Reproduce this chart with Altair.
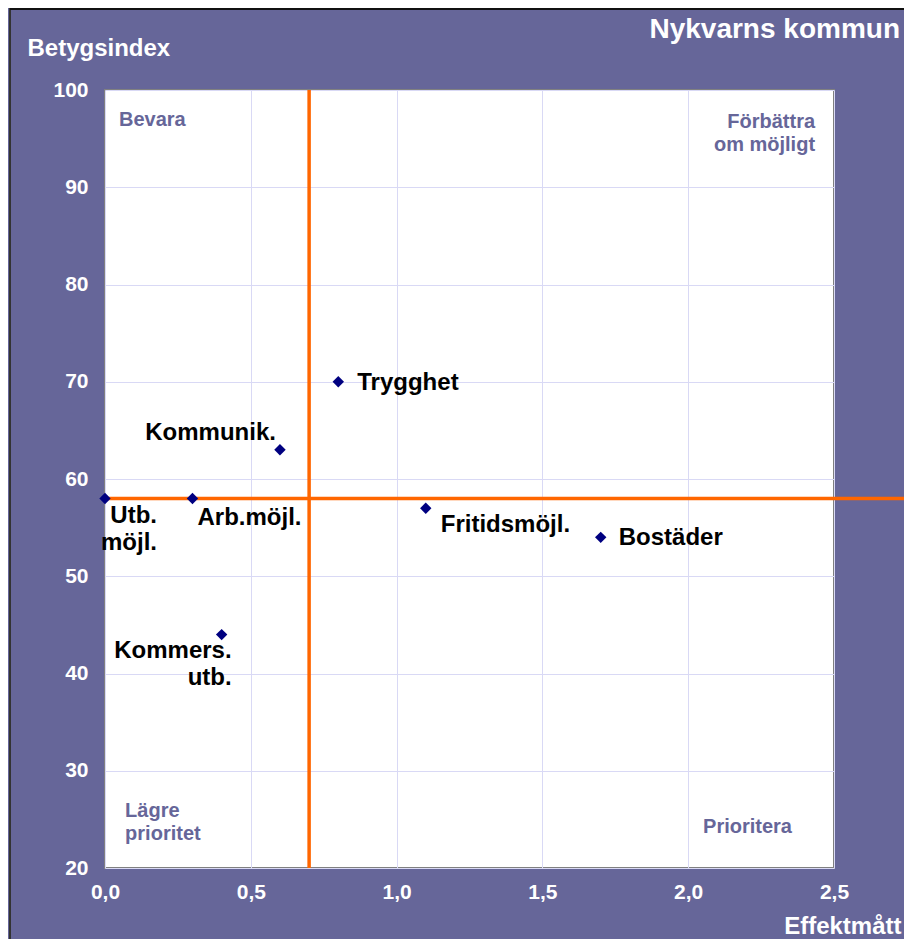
import altair as alt
import pandas as pd

# ---- data ----
labels = ["Utb.\nmöjl.", "Arb.möjl.", "Kommers.\nutb.", "Kommunik.", "Trygghet", "Fritidsmöjl.", "Bostäder"]
effekt = [0.0, 0.3, 0.4, 0.6, 0.8, 1.1, 1.7]
betyg = [58, 58, 44, 63, 70, 57, 54]

x_ticks = [0.0, 0.5, 1.0, 1.5, 2.0, 2.5]
y_ticks = [20, 30, 40, 50, 60, 70, 80, 90, 100]

quad_text = ["Bevara", "Förbättra\nom möjligt", "Lägre\nprioritet", "Prioritera"]
quad_x = [0.048, 2.435, 0.069, 2.051]
quad_y = [96.3, 96.1, 25.2, 23.6]

line_x = [0.7]
line_y = [58]

title_text = "Nykvarns kommun"
x_title = "Effektmått"
y_title = "Betygsindex"

# ---- style ----
BG = "#666699"
FONT = "Liberation Sans"
W, H = 729, 778
PAD = {"left": 97, "top": 82, "right": 70, "bottom": 71}

label_style = {
    "Utb.\nmöjl.": ("right", 52, 25),
    "Arb.möjl.": ("left", 5, 27),
    "Kommers.\nutb.": ("right", 10, 23),
    "Kommunik.": ("right", -4, -10),
    "Trygghet": ("left", 19, 8),
    "Fritidsmöjl.": ("left", 15, 24),
    "Bostäder": ("left", 18, 8),
}
quad_align = ["left", "right", "left", "left"]

df = pd.DataFrame({"label": labels, "effekt": effekt, "betyg": betyg})
qdf = pd.DataFrame({"text": quad_text, "x": quad_x, "y": quad_y})

xscale = alt.Scale(domain=[0, 2.5], nice=False, zero=False)
yscale = alt.Scale(domain=[20, 100], nice=False, zero=False)

xaxis = alt.Axis(
    values=x_ticks,
    labelExpr="replace(format(datum.value, '.1f'), '.', ',')",
    labelColor="white", labelFont=FONT, labelFontSize=21, labelFontWeight="bold",
    labelPadding=13, labelFlush=False, labelOverlap=False,
    grid=True, gridColor="#D9D9F5", gridWidth=1,
    domain=False, ticks=False,
    title=x_title, titleColor="white", titleFont=FONT, titleFontSize=24,
    titleFontWeight="bold", titleAlign="right", titleAnchor="start",
    titleX=796, titleY=65, titleBaseline="alphabetic",
)
yaxis = alt.Axis(
    values=y_ticks,
    labelColor="white", labelFont=FONT, labelFontSize=21, labelFontWeight="bold",
    labelPadding=17, labelFlush=False, labelOverlap=False,
    grid=True, gridColor="#D9D9F5", gridWidth=1,
    domain=False, ticks=False,
    title=y_title, titleColor="white", titleFont=FONT, titleFontSize=24,
    titleFontWeight="bold", titleAngle=0, titleAlign="left", titleAnchor="start",
    titleX=-78, titleY=-35, titleBaseline="alphabetic",
)

base = alt.Chart(df)

points = base.mark_point(shape="diamond", filled=True, color="#000080", size=130, opacity=1).encode(
    x=alt.X("effekt:Q", scale=xscale, axis=xaxis),
    y=alt.Y("betyg:Q", scale=yscale, axis=yaxis),
)

vline = alt.Chart(pd.DataFrame({"v": line_x})).mark_rule(color="#FF6600", strokeWidth=3.5).encode(
    x=alt.X("v:Q", scale=xscale),
)
hline = alt.Chart(pd.DataFrame({"h": line_y})).mark_rule(color="#FF6600", strokeWidth=3.5).encode(
    y=alt.Y("h:Q", scale=yscale),
    x=alt.value(0), x2=alt.value(W + PAD["right"] + 10),
)

text_layers = []
for lab in labels:
    al, dx, dy = label_style[lab]
    text_layers.append(
        base.transform_filter(alt.datum.label == lab).mark_text(
            align=al, dx=dx, dy=dy, baseline="alphabetic", lineBreak="\n", lineHeight=27,
            font=FONT, fontSize=24, fontWeight="bold", color="black",
        ).encode(
            x=alt.X("effekt:Q", scale=xscale),
            y=alt.Y("betyg:Q", scale=yscale),
            text="label:N",
        )
    )

quad_layers = []
for i, t in enumerate(quad_text):
    quad_layers.append(
        alt.Chart(qdf).transform_filter(alt.datum.text == t).mark_text(
            align=quad_align[i], baseline="alphabetic", lineBreak="\n", lineHeight=23,
            font=FONT, fontSize=20, fontWeight="bold", color=BG,
        ).encode(
            x=alt.X("x:Q", scale=xscale),
            y=alt.Y("y:Q", scale=yscale),
            text="text:N",
        )
    )

title = alt.Chart(pd.DataFrame({"t": [title_text]})).mark_text(
    align="right", baseline="alphabetic", font=FONT, fontSize=28, fontWeight="bold", color="white",
).encode(text="t:N", x=alt.value(795), y=alt.value(-52))

# outer frame edges (left and top) of the purple panel
frame_left = alt.Chart(pd.DataFrame({"d": [0]})).mark_rule(color="#333333", strokeWidth=2).encode(
    x=alt.value(-95), y=alt.value(-82), y2=alt.value(H + PAD["bottom"] + 5)
)
frame_top = alt.Chart(pd.DataFrame({"d": [0]})).mark_rule(color="#111111", strokeWidth=2).encode(
    x=alt.value(-95), x2=alt.value(W + PAD["right"] + 5), y=alt.value(-81)
)

chart = alt.layer(
    vline, hline, points, *text_layers, *quad_layers, title, frame_left, frame_top
).properties(
    width=W, height=H,
    autosize=alt.AutoSizeParams(type="none"),
    padding=PAD,
    background=BG,
).configure_view(
    fill="white", stroke="#808080", strokeWidth=2,
)

chart.save("out.html", embed_options={"renderer": "svg", "actions": False})
